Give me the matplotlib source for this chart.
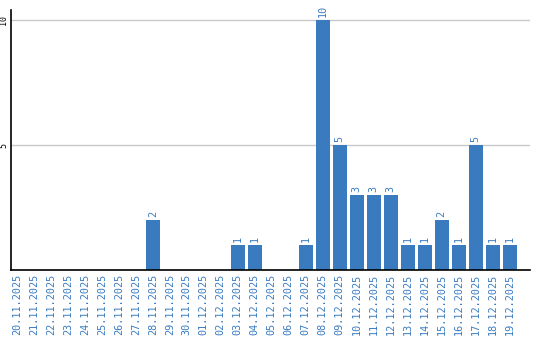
import matplotlib.pyplot as plt
import numpy as np

# Data
dates = ['20.11.2025', '21.11.2025', '22.11.2025', '23.11.2025', '24.11.2025',
         '25.11.2025', '26.11.2025', '27.11.2025', '28.11.2025', '29.11.2025',
         '30.11.2025', '01.12.2025', '02.12.2025', '03.12.2025', '04.12.2025',
         '05.12.2025', '06.12.2025', '07.12.2025', '08.12.2025', '09.12.2025',
         '10.12.2025', '11.12.2025', '12.12.2025', '13.12.2025', '14.12.2025',
         '15.12.2025', '16.12.2025', '17.12.2025', '18.12.2025', '19.12.2025']
counts = [0, 0, 0, 0, 0, 0, 0, 0, 2, 0,
          0, 0, 0, 1, 1, 0, 0, 1, 10, 5,
          3, 3, 3, 1, 1, 2, 1, 5, 1, 1]
yticks = [5, 10]

bar_color = '#3a7bc0'
label_color = '#3a7bc0'

fig = plt.figure(figsize=(5.4, 3.4), dpi=100)
ax = fig.add_axes([11 / 540, 1 - 270 / 340, 519 / 540, 260 / 340])

x = np.arange(len(dates))
bars = ax.bar(x, counts, width=0.82, color=bar_color, zorder=2)

# Value labels above bars
for xi, v in zip(x, counts):
    if v > 0:
        ax.text(xi, v + 0.12, str(v), rotation=90, ha='center', va='bottom',
                color=label_color, fontsize=7.3, family='DejaVu Sans Mono')

ax.set_xlim(-0.35, 30.2)
ax.set_ylim(0, 10.4)
ax.set_xticks(x)
ax.set_xticklabels(dates, rotation=90, color=label_color, fontsize=7.3,
                   family='DejaVu Sans Mono')
ax.set_yticks(yticks)
ax.set_yticklabels([str(t) for t in yticks], rotation=90, fontsize=6,
                   family='DejaVu Sans Mono', va='center')
ax.tick_params(axis='both', length=0, pad=3)
ax.tick_params(axis='y', pad=2)

ax.grid(axis='y', color='#c8c8c8', linewidth=1, zorder=0)
for side in ['top', 'right']:
    ax.spines[side].set_visible(False)
for side in ['left', 'bottom']:
    ax.spines[side].set_color('black')
    ax.spines[side].set_linewidth(1.2)
    ax.spines[side].set_zorder(3)

fig.savefig('out.png', dpi=100)
